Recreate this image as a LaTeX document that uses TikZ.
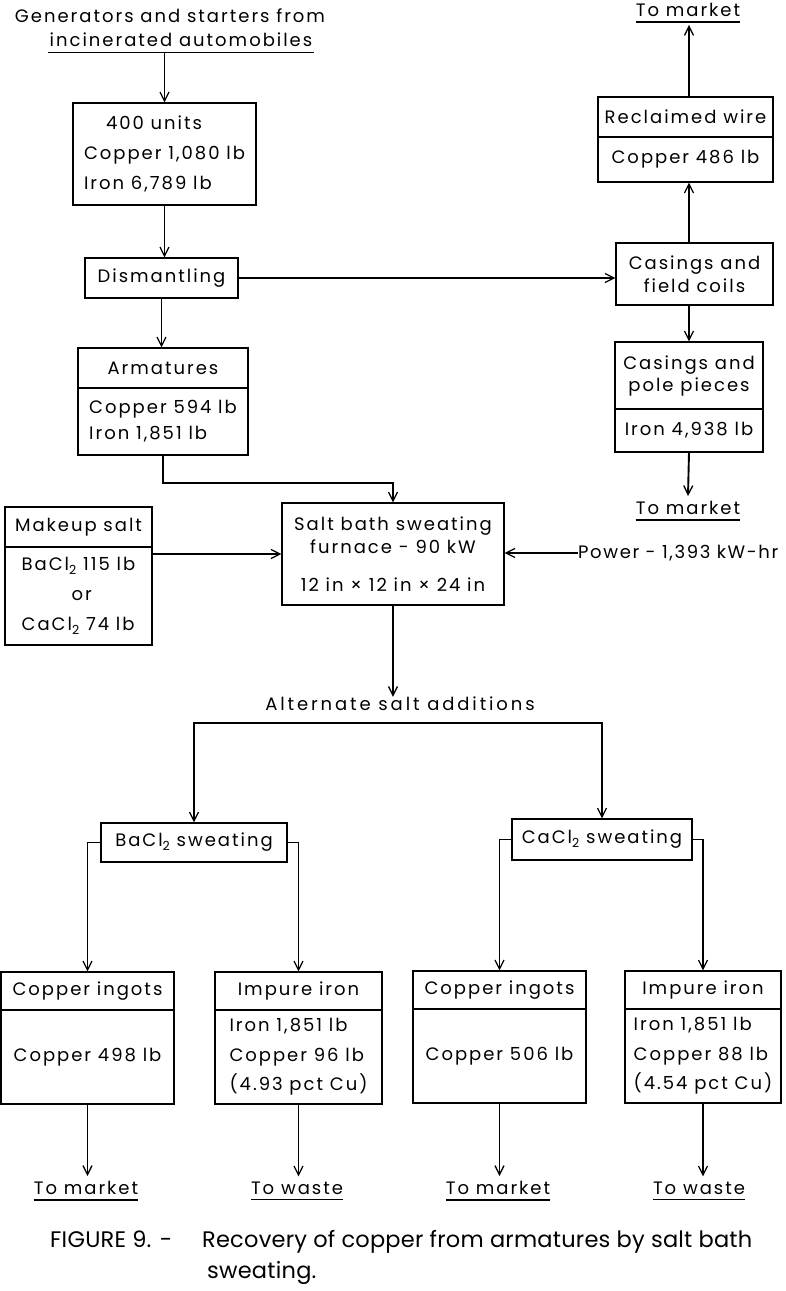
\documentclass[tikz,border=0pt]{standalone}
\usepackage{fontspec}
\setmainfont{Poppins}[LetterSpace=11]
\newfontfamily\capfont{Poppins}[LetterSpace=1]
\usetikzlibrary{arrows.meta}
\newcommand{\subtwo}{\raisebox{-0.4ex}{\fontsize{12.5}{12.5}\selectfont 2}}
\begin{document}
\begin{tikzpicture}[x=1pt,y=-1pt,
  every node/.style={font=\fontsize{18}{18}\selectfont},
  box/.style={draw, line width=1.1pt, inner sep=0pt, align=center},
  lbl/.style={inner sep=0pt, align=center},
  ulbl/.style={inner xsep=0pt, inner ysep=5pt, align=center},
  conn/.style={line width=1.9pt, -{Straight Barb[length=9pt,width=9pt,line width=1.3pt]}},
  ul/.style={line width=1.2pt}
]
\useasboundingbox[fill=white] (0,0) rectangle (785,1291);

% source
\node[lbl] (src1) at (170,16) {Generators and starters from};
\node[ulbl] (src2) at (181,40) {incinerated automobiles};
\draw[ul] ([xshift=-2pt]src2.south west) -- ([xshift=2pt]src2.south east);

% left column
\node[box, minimum width=183pt, minimum height=102pt, align=left, font=\fontsize{18}{30}\selectfont] (units) at (164.5,154) {\hspace*{22pt}400 units\\Copper 1,080 lb\\Iron 6,789 lb};
\node[box, minimum width=153pt, minimum height=40pt] (dism) at (161.5,278) {Dismantling};
\node[box, minimum width=170pt, minimum height=40pt] (armh) at (163,368) {Armatures};
\node[box, minimum width=170pt, minimum height=67pt, align=left, font=\fontsize{18}{26}\selectfont] (armb) at (163,421.5) {Copper 594 lb\\Iron 1,851 lb};

% furnace and inputs
\node[box, minimum width=222pt, minimum height=102pt, font=\fontsize{18}{23}\selectfont] (furn) at (393,554) {Salt bath sweating\\furnace - 90 kW\\[15pt]12 in × 12 in × 24 in};
\node[box, minimum width=147pt, minimum height=40pt] (msh) at (78.5,527) {Makeup salt};
\node[box, minimum width=147pt, minimum height=98pt, align=left, font=\fontsize{18}{30}\selectfont] (msb) at (78.5,596) {BaCl\subtwo{} 115 lb\\\hspace*{50pt}or\\CaCl\subtwo{} 74 lb};
\node[lbl, anchor=west, font=\addfontfeature{LetterSpace=9}\fontsize{18}{18}\selectfont] (pow) at (578,553) {Power - 1,393 kW-hr};

% right column
\node[box, minimum width=175pt, minimum height=40pt] (rwh) at (685.5,117) {Reclaimed wire};
\node[box, minimum width=175pt, minimum height=45pt] (rwb) at (685.5,159.5) {Copper 486 lb};
\node[box, minimum width=157pt, minimum height=62pt, font=\fontsize{18}{23}\selectfont] (cfc) at (694.5,274) {Casings and\\field coils};
\node[box, minimum width=148pt, minimum height=67pt, font=\fontsize{18}{22}\selectfont] (cpph) at (689,375.5) {Casings and\\pole pieces};
\node[box, minimum width=148pt, minimum height=43pt] (cppb) at (689,430.5) {Iron 4,938 lb};
\node[ulbl] (tm0) at (688,10) {To market};
\node[ulbl] (tm1) at (688,508) {To market};
\draw[ul] (tm0.south west) -- (tm0.south east);
\draw[ul] (tm1.south west) -- (tm1.south east);

% alternate additions
\node[lbl, font=\addfontfeature{LetterSpace=16}\fontsize{18}{18}\selectfont] (alt) at (400,704) {Alternate salt additions};
\coordinate (br) at (398,723);
\node[box, minimum width=186pt, minimum height=39pt] (bs) at (194,842.5) {BaCl\subtwo{} sweating};
\node[box, minimum width=180pt, minimum height=41pt] (cs) at (602,839.5) {CaCl\subtwo{} sweating};

% products
\node[box, minimum width=173pt, minimum height=38pt] (ci1h) at (87.5,991) {Copper ingots};
\node[box, minimum width=173pt, minimum height=94pt] (ci1b) at (87.5,1057) {Copper 498 lb};
\node[box, minimum width=167pt, minimum height=38pt] (ii1h) at (298.5,991) {Impure iron};
\node[box, minimum width=167pt, minimum height=94pt, align=left, font=\fontsize{18}{29.5}\selectfont] (ii1b) at (298.5,1057) {Iron 1,851 lb\\Copper 96 lb\\(4.93 pct Cu)};
\node[box, minimum width=173pt, minimum height=38pt] (ci2h) at (499.5,990) {Copper ingots};
\node[box, minimum width=173pt, minimum height=94pt] (ci2b) at (499.5,1056) {Copper 506 lb};
\node[box, minimum width=156pt, minimum height=38pt] (ii2h) at (703,990) {Impure iron};
\node[box, minimum width=156pt, minimum height=94pt, align=left, font=\fontsize{18}{29.5}\selectfont] (ii2b) at (703,1056) {Iron 1,851 lb\\Copper 88 lb\\(4.54 pct Cu)};

\node[ulbl] (m1) at (86,1188) {To market};
\node[ulbl] (w1) at (297,1188) {To waste};
\node[ulbl] (m2) at (498,1188) {To market};
\node[ulbl] (w2) at (699,1188) {To waste};
\foreach \n in {m1,w1,m2,w2} \draw[ul] (\n.south west) -- (\n.south east);

% caption
\node[lbl, anchor=west, font=\capfont\fontsize{22.5}{22.5}\selectfont] (cap1) at (50,1242) {FIGURE 9. -\hspace{30pt}Recovery of copper from armatures by salt bath};
\node[lbl, anchor=west, font=\capfont\fontsize{22.5}{22.5}\selectfont] (cap2) at (207,1273) {sweating.};

% connectors
\draw[conn] (src2.south -| units.north) -- (units.north);
\draw[conn] (units.south) -- (units.south |- dism.north);
\draw[conn] (dism.south) -- (dism.south |- armh.north);
\draw[conn] (dism.east) -- (dism.east -| cfc.west);
\draw[conn] (armb.south) -- ++(0,27) -| (furn.north);
\draw[conn] (msb.east |- furn.west) -- (furn.west);
\draw[conn] (pow.west) -- (pow.west -| furn.east);
\draw[conn, shorten >=3pt] (rwh.north -| cpph.north) -- (tm0.south -| cpph.north);
\draw[conn] (cfc.north -| cpph.north) -- (rwb.south -| cpph.north);
\draw[conn] (cfc.south -| cpph.north) -- (cpph.north);
\draw[conn] (cppb.south) -- (tm1.north);
\draw[conn] (furn.south) -- (furn.south |- alt.north);
\draw[conn] (br) -| (bs.north);
\draw[conn] (br) -| (cs.north);
\draw[conn] (bs.west) -| (ci1h.north);
\draw[conn] (bs.east) -| (ii1h.north);
\draw[conn] (cs.west) -| (ci2h.north);
\draw[conn] (cs.east) -| (ii2h.north);
\draw[conn] (ci1b.south) -- (ci1b.south |- m1.north);
\draw[conn] (ii1b.south) -- (ii1b.south |- w1.north);
\draw[conn] (ci2b.south) -- (ci2b.south |- m2.north);
\draw[conn] (ii2b.south) -- (ii2b.south |- w2.north);
\end{tikzpicture}
\end{document}
